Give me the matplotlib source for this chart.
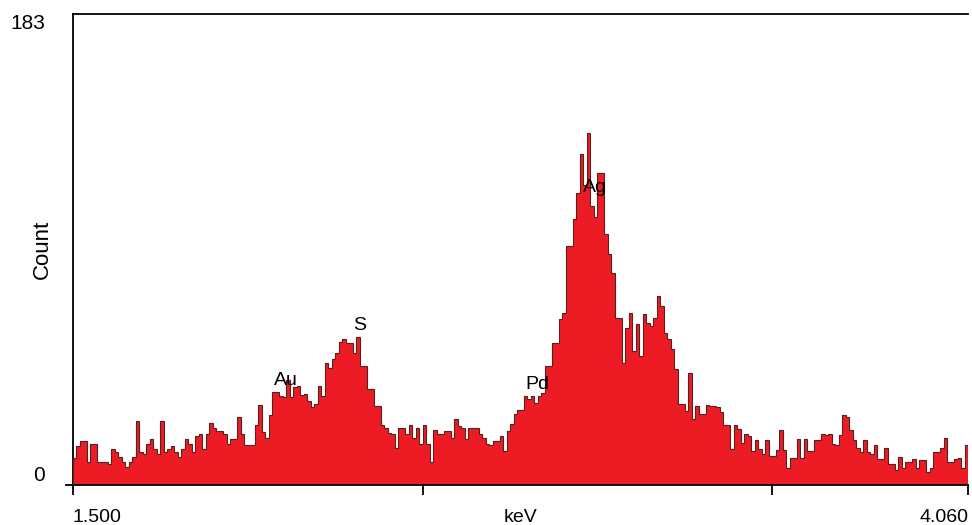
import numpy as np
import matplotlib
matplotlib.use("Agg")
import matplotlib.pyplot as plt

plt.rcParams['font.family'] = ['Liberation Sans', 'DejaVu Sans']

# EDS spectrum, 256 channels of 10 eV from 1.500 to 4.060 keV
e_start = 1.500
e_stop = 4.060
y_max = 183

counts_a = [10.5, 15, 17, 17, 9, 16, 16, 9, 9, 9, 8, 14, 13, 11, 9, 7, 9, 11, 25, 13,
            12, 16, 18, 14, 12, 25, 13, 14, 15, 13, 11, 14, 18, 16, 13, 19, 20, 14, 20, 24,
            22, 21, 21]
counts_b = [19.7, 15.8, 17.7, 17.7, 26.6, 20, 15.5, 15.5, 15.5, 23.3, 31, 20.4, 18.4, 27.2,
            36.3, 36, 34.6, 34, 40.7, 34, 38.1, 38.6, 35, 35.4, 32.6, 30.3, 31.6, 38.3, 34.6,
            47.5, 45.3, 49, 51.4, 55.7, 56.6, 55, 55.3, 51.4, 57.5, 46.2]
counts_c1 = [46.2, 37.2, 37.2, 30.7, 30.7, 23.3, 22.3, 20.3, 19.7, 14.5, 22, 22, 19.7,
             23.3, 18.1, 22, 15.8, 23.3, 16, 9.1, 21.5, 19.7, 19.9, 21, 21, 18.4, 25.5, 23,
             22.3, 17.7, 22, 22, 22, 19.9, 18.4, 15.8, 15.6, 17, 17, 18.9, 13.2,
             21, 23.6, 27.5, 29, 29, 34.6, 33.3, 34.6]
counts_ag = [32, 34.6, 35.9, 46.2, 46.2, 55.3, 55.3, 64.4, 67, 92.9, 92.9, 103.5, 113.6,
             128.5, 116.4, 136.6, 108.4, 104, 121.3, 121.3, 97.4, 89.6, 82.5, 65, 65, 47.5,
             61.1, 67, 52, 62.4, 50.1, 66.3, 63, 61.8, 64.9, 73.4, 69.5, 59.2, 56.6, 52.7,
             44.9, 31.3, 31.3, 28.7, 43.6, 25.5, 30.7]
counts_d = [27.5, 27.5, 31, 30.5, 30.5, 30.3, 28.5, 23.5, 23.5, 13.9, 23.5, 21.6, 16.4,
            19.7, 19, 13.2, 17.4, 13.9, 12.2, 17.4, 11.3, 11.3, 13.5, 21.2, 13.5, 6.5, 10.4,
            10.4, 18, 10.4, 18, 13.2, 13.2, 17.4, 17.4, 19.9, 19.4]
counts_e = [19.7, 16, 15.5, 19.4, 27.2, 26.4, 21.2, 17.4, 14.3, 12.9, 17.4, 12.9, 12.2,
            15.5, 10, 10, 14.3, 8.3, 8.3, 5.7, 10.9, 6.5, 9.1, 9.1, 10, 6.5, 9.6, 9.6, 5.2,
            6.5, 12.9, 12.9, 14.3, 18.4, 9.1, 9.1, 10, 10.6, 6.5, 15.5]

counts = np.array(counts_a + counts_b + counts_c1 + counts_ag + counts_d + counts_e)
edges = np.linspace(e_start, e_stop, len(counts) + 1)

peak_names = ['Au', 'S', 'Pd', 'Ag']
peak_energy = [2.109, 2.321, 2.827, 2.993]
peak_label_y = [38.9, 60.2, 37.3, 113.8]

fig = plt.figure(figsize=(9.72, 5.25), dpi=100)
ax = fig.add_axes([0.0751, 0.0762, 0.9208, 0.8971])

ax.stairs(counts, edges, fill=True, color='#ED1C24', zorder=2)
ax.stairs(counts, edges, color='#5a2020', lw=0.8, zorder=3)

for name, e, y in zip(peak_names, peak_energy, peak_label_y):
    ax.text(e, y, name, ha='center', va='baseline', fontsize=14, color='black', zorder=4)

ax.set_xlim(e_start, e_stop)
ax.set_ylim(0, y_max)

ax.spines['right'].set_visible(False)
for s in ['left', 'bottom', 'top']:
    ax.spines[s].set_linewidth(1.3)
    ax.spines[s].set_color('black')

ax.set_xticks([1.5, 2.5, 3.5, 4.06])
ax.set_xticklabels(['', '', '', ''])
ax.tick_params(axis='x', direction='out', length=7, width=1.3, pad=2)
ax.text(0.0, -0.052, '1.500', transform=ax.transAxes, ha='left', va='top', fontsize=14)
ax.text(1.0, -0.052, '4.060', transform=ax.transAxes, ha='right', va='top', fontsize=14)
ax.text(0.5, -0.052, 'keV', transform=ax.transAxes, ha='center', va='top', fontsize=14)

ax.set_yticks([0, y_max])
ax.set_yticklabels(['0', '183'], fontsize=15)
ax.tick_params(axis='y', direction='out', length=6, width=1.3, pad=14)
ylabels = ax.get_yticklabels()
ylabels[0].set_va('bottom')
ylabels[1].set_va('top')
ax.yaxis.get_major_ticks()[1].tick1line.set_visible(False)
ax.set_ylabel('Count', fontsize=16)
ax.yaxis.set_label_coords(-0.022, 0.5)

fig.savefig('out.png', dpi=100)
